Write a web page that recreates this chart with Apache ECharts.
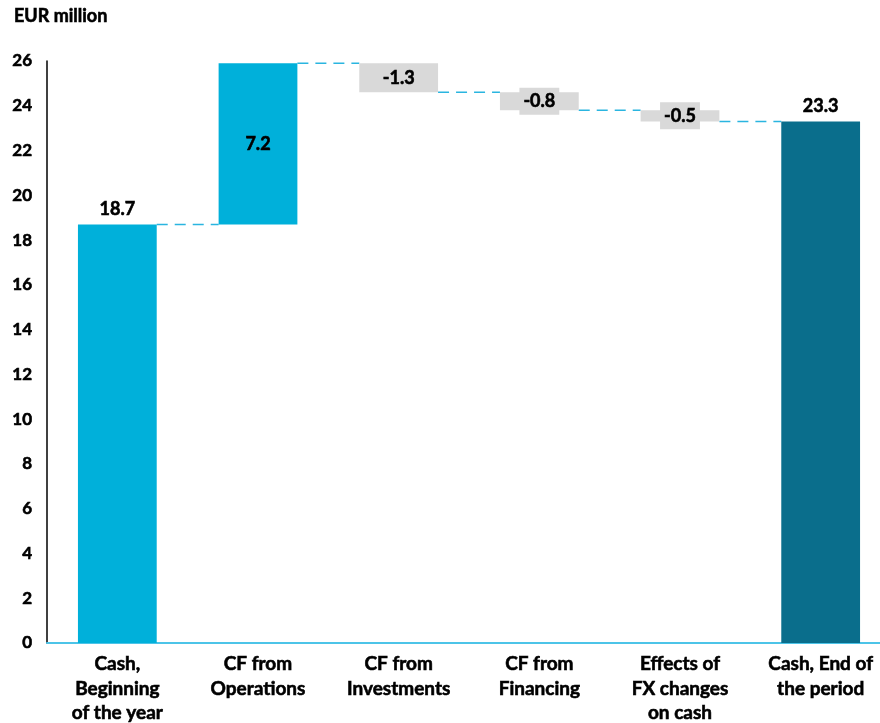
<!DOCTYPE html>
<html>
<head>
<meta charset="utf-8">
<script src="https://cdn.jsdelivr.net/npm/echarts@6/dist/echarts.min.js"></script>
<style>
html,body{margin:0;padding:0;background:#fff;}
#chart{width:880px;height:723px;}
</style>
</head>
<body>
<div id="chart"></div>
<script>
var categories = ['Cash,\nBeginning\nof the year', 'CF from\nOperations', 'CF from\nInvestments', 'CF from\nFinancing', 'Effects of\nFX changes\non cash', 'Cash, End of\nthe period'];
var changes = [18.7, 7.2, -1.3, -0.8, -0.5, 23.3];
var kinds = ['total', 'increase', 'decrease', 'decrease', 'decrease', 'end'];
var yTicks = [0, 26, 2];

var FONT = 'Lato, "Open Sans", sans-serif';
var colors = {total: '#00b0da', increase: '#00b0da', decrease: '#d9d9d9', end: '#0a6e8c'};
var HEAVY = {textBorderColor: '#000', textBorderWidth: 0.6};

// derive waterfall bases and running levels
var bases = [], sizes = [], levels = [];
var running = 0;
for (var i = 0; i < changes.length; i++) {
  if (kinds[i] === 'total' || kinds[i] === 'end') {
    bases.push(0); sizes.push(changes[i]); running = changes[i];
  } else if (changes[i] >= 0) {
    bases.push(running); sizes.push(changes[i]); running += changes[i];
  } else {
    running += changes[i]; bases.push(running); sizes.push(-changes[i]);
  }
  levels.push(Math.round(running * 10) / 10);
}
var connectors = [];
for (var j = 0; j < changes.length - 1; j++) connectors.push([j, levels[j]]);

var BAR_RATIO = 0.56;

var barData = sizes.map(function (v, i) {
  var k = kinds[i];
  var item = {value: v, itemStyle: {color: colors[k]}};
  var lbl = Object.assign({show: true, formatter: changes[i].toFixed(1), fontFamily: FONT, fontWeight: 'bold', fontSize: 18, color: '#000'}, HEAVY);
  if (k === 'total' || k === 'end') {
    lbl.position = 'top'; lbl.distance = 6;
  } else if (k === 'increase') {
    lbl.position = 'inside';
  } else {
    lbl.position = 'inside';
    lbl.backgroundColor = colors.decrease;
    lbl.padding = [5, 4, 4, 4];
    lbl.lineHeight = 18;
  }
  item.label = lbl;
  return item;
});

var chart = echarts.init(document.getElementById('chart'));
chart.setOption({
  animation: false,
  title: {
    text: 'EUR million', left: 9, top: 2,
    textStyle: Object.assign({fontFamily: FONT, fontWeight: 'bold', fontSize: 18, color: '#000'}, HEAVY)
  },
  grid: {left: 47, width: 844, top: 61, height: 582, containLabel: false, outerBoundsMode: 'none'},
  xAxis: {
    type: 'category',
    data: categories,
    axisTick: {show: false},
    axisLine: {show: true, lineStyle: {color: '#4cc4e8', width: 2}},
    axisLabel: Object.assign({interval: 0, fontFamily: FONT, fontWeight: 'bold', fontSize: 19, color: '#000', lineHeight: 24.5, margin: 9}, HEAVY)
  },
  yAxis: {
    type: 'value',
    min: yTicks[0], max: yTicks[1], interval: yTicks[2],
    splitLine: {show: false},
    axisTick: {show: false},
    axisLine: {show: true, lineStyle: {color: '#000', width: 1.5}},
    axisLabel: Object.assign({fontFamily: FONT, fontWeight: 'bold', fontSize: 17, color: '#000', margin: 15}, HEAVY)
  },
  series: [
    {
      type: 'bar', stack: 'wf', data: bases, barWidth: (BAR_RATIO * 100) + '%',
      itemStyle: {color: 'transparent'}, silent: true, label: {show: false}
    },
    {
      type: 'bar', stack: 'wf', data: barData, barWidth: (BAR_RATIO * 100) + '%'
    },
    {
      type: 'custom',
      data: connectors,
      z: 1,
      renderItem: function (params, api) {
        var idx = api.value(0), lv = api.value(1);
        var p0 = api.coord([idx, lv]);
        var p1 = api.coord([idx + 1, lv]);
        var half = api.size([1, 0])[0] * BAR_RATIO / 2;
        return {
          type: 'line',
          shape: {x1: p0[0] + half, y1: p0[1], x2: p1[0] - half, y2: p1[1]},
          style: {stroke: '#2ab5e0', lineWidth: 1.5, lineDash: [11, 7]}
        };
      }
    }
  ]
});
</script>
</body>
</html>
